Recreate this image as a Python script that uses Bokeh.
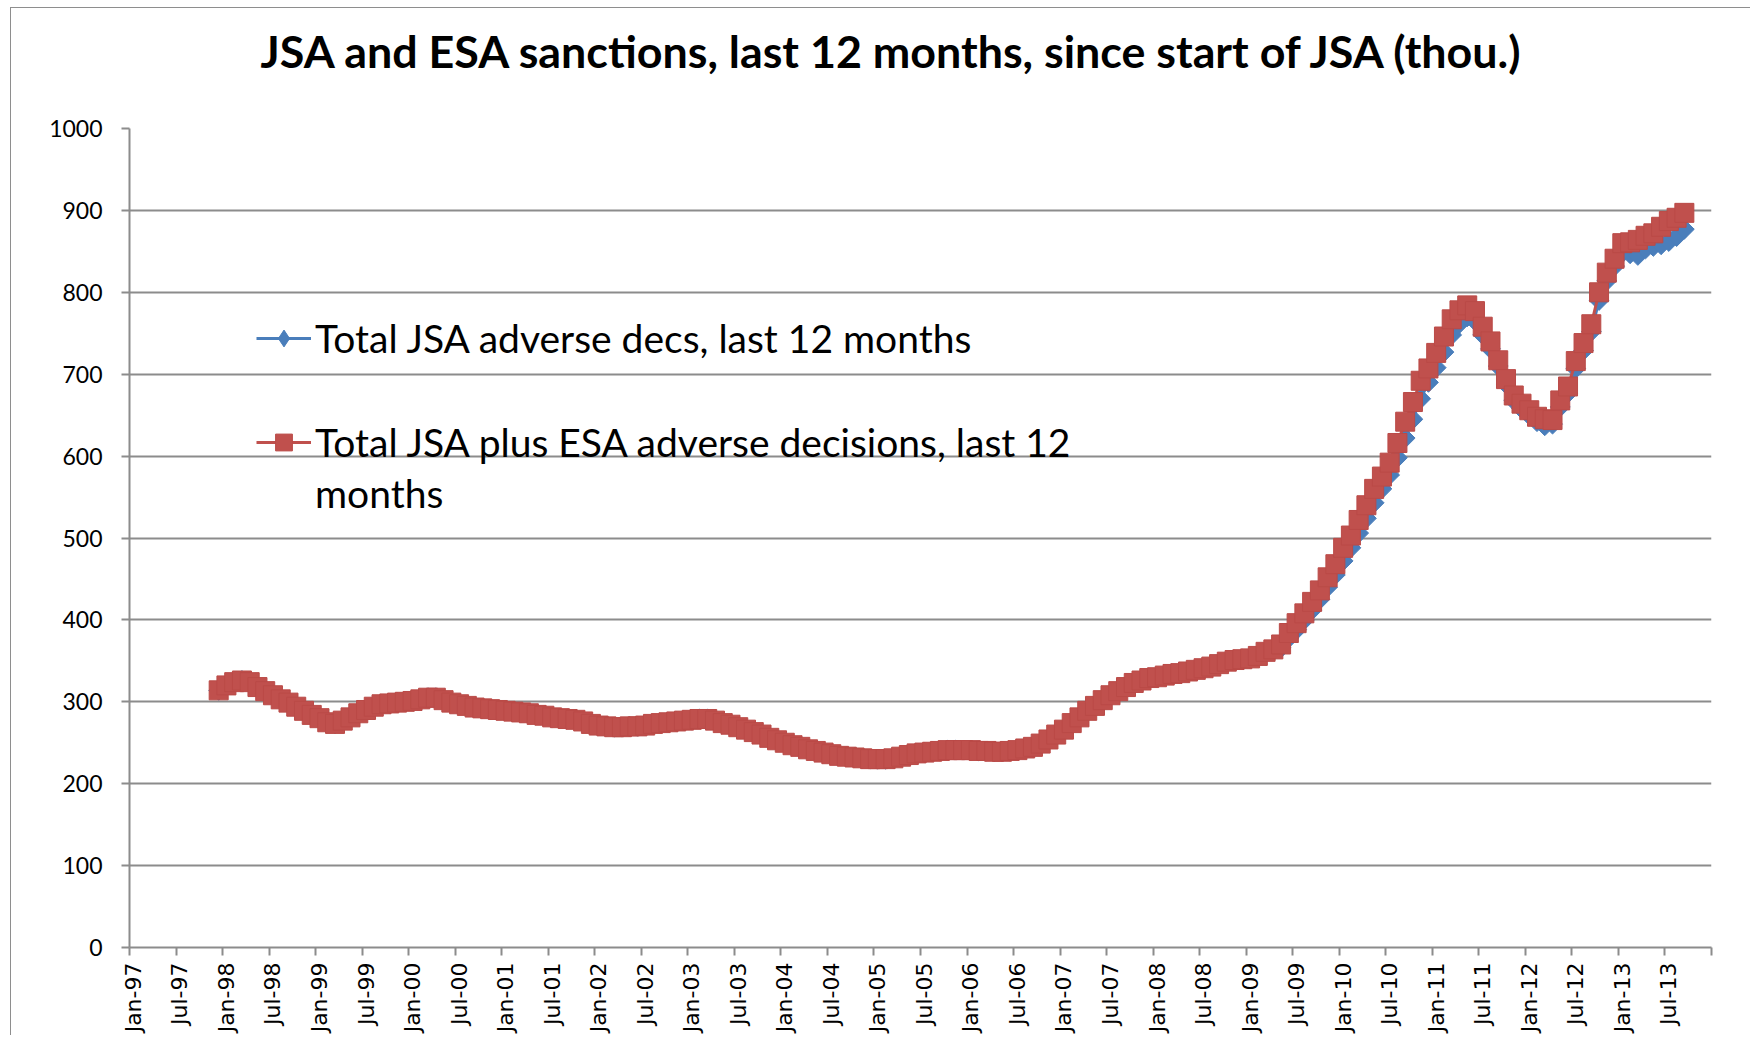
import numpy as np
from bokeh.plotting import figure
from bokeh.models import FixedTicker, Legend, LegendItem, Range1d
from bokeh.embed import file_html
from bokeh.resources import INLINE

# ---------------- data ----------------
title_text = "JSA and ESA sanctions, last 12 months, since start of JSA (thou.)"
series_names = ["Total JSA adverse decs, last 12 months",
                "Total JSA plus ESA adverse decisions, last 12",
                "months"]

# monthly category axis: Jan-97 ... Dec-13 (204 months), labels every 6 months
n_months = 204
tick_labels = ["Jan-97", "Jul-97", "Jan-98", "Jul-98", "Jan-99", "Jul-99",
               "Jan-00", "Jul-00", "Jan-01", "Jul-01", "Jan-02", "Jul-02",
               "Jan-03", "Jul-03", "Jan-04", "Jul-04", "Jan-05", "Jul-05",
               "Jan-06", "Jul-06", "Jan-07", "Jul-07", "Jan-08", "Jul-08",
               "Jan-09", "Jul-09", "Jan-10", "Jul-10", "Jan-11", "Jul-11",
               "Jan-12", "Jul-12", "Jan-13", "Jul-13"]
label_step = 6
first_month = 11   # Dec-97 is the first month with data

jsa_plus_esa = [
    314, 320, 324, 326, 324, 318, 313, 308, 303, 299,
    294, 289, 284, 280, 275, 273, 277, 281, 286, 290,
    294, 297, 298, 299, 300, 301, 303, 305, 305, 302,
    299, 297, 295, 293, 292, 291, 290, 289, 288, 287,
    286, 284, 283, 281, 280, 279, 278, 276, 273, 271,
    270, 269, 269, 270, 270, 271, 273, 274, 275, 276,
    277, 278, 279, 279, 277, 274, 272, 269, 266, 263,
    260, 256, 253, 250, 247, 245, 242, 240, 238, 236,
    234, 233, 232, 231, 230, 230, 230, 231, 233, 235,
    237, 238, 239, 240, 241, 241, 241, 241, 240, 240,
    239, 239, 240, 241, 243, 245, 249, 254, 260, 266,
    274, 281, 289, 295, 302, 308, 313, 318, 323, 326,
    329, 330, 332, 334, 335, 337, 339, 341, 343, 346,
    349, 351, 352, 353, 356, 361, 364, 370, 384, 396,
    408, 422, 436, 452, 468, 488, 503, 522, 540, 560,
    575, 592, 616, 642, 666, 692, 707, 726, 746, 767,
    778, 784, 777, 758, 740, 717, 694, 674, 664, 656,
    648, 645, 644, 668, 685, 716, 738, 761, 800, 824,
    841, 860, 861, 864, 869, 872, 880, 887, 891, 897,
]

jsa_only = [
    314, 320, 324, 326, 324, 318, 313, 308, 303, 299,
    294, 289, 284, 280, 275, 273, 277, 281, 286, 290,
    294, 297, 298, 299, 300, 301, 303, 305, 305, 302,
    299, 297, 295, 293, 292, 291, 290, 289, 288, 287,
    286, 284, 283, 281, 280, 279, 278, 276, 273, 271,
    270, 269, 269, 270, 270, 271, 273, 274, 275, 276,
    277, 278, 279, 279, 277, 274, 272, 269, 266, 263,
    260, 256, 253, 250, 247, 245, 242, 240, 238, 236,
    234, 233, 232, 231, 230, 230, 230, 231, 233, 235,
    237, 238, 239, 240, 241, 241, 241, 241, 240, 240,
    239, 239, 240, 241, 243, 245, 249, 254, 260, 266,
    274, 281, 289, 295, 302, 308, 313, 318, 323, 326,
    329, 330, 332, 334, 335, 337, 339, 341, 343, 346,
    349, 351, 352, 353, 356, 361, 362, 366, 378, 388,
    400, 412, 425, 440, 455, 472, 488, 506, 524, 543,
    560, 577, 598, 622, 645, 670, 690, 708, 727, 748,
    762, 770, 765, 748, 731, 710, 688, 668, 658, 650,
    642, 637, 639, 660, 677, 707, 729, 752, 790, 814,
    832, 848, 847, 845, 853, 856, 858, 862, 868, 877,
]

y_ticks = [0, 100, 200, 300, 400, 500, 600, 700, 800, 900, 1000]

# ---------------- styles ----------------
BLUE = "#4A7EBB"
RED = "#C0504D"
GRID = "#8C8C8C"
FONT = "Lato"

# category centres
x_vals = first_month + np.arange(len(jsa_plus_esa)) + 0.5

p = figure(width=1740, height=1028, output_backend="svg", toolbar_location=None,
           x_range=Range1d(0, n_months), y_range=Range1d(0, 1000),
           min_border_left=118, min_border_right=40, min_border_top=120,
           min_border_bottom=89)
p.styles = {"margin-left": "10px", "margin-top": "7px",
            "border-top": "1px solid #8e8e8e", "border-left": "1px solid #8e8e8e"}
p.outline_line_color = None
p.background_fill_color = "white"
p.border_fill_color = "white"

# title (a blank second line lifts the text towards the top of the chart area)
p.title.text = title_text + "\n "
p.title.text_font = FONT
p.title.text_font_style = "bold"
p.title.text_font_size = "44.8px"
p.title.text_line_height = 0.9
p.title.text_color = "black"
p.title.align = "left"
p.title.offset = 131
p.title.standoff = 4

# series (blue under red)
r_blue_line = p.line(x_vals, jsa_only, line_color=BLUE, line_width=3)
# diamond key (drawn under the rotated squares, used for the legend swatch)
r_blue_key = p.scatter(x_vals, jsa_only, marker="diamond", size=17,
                       fill_color=BLUE, line_color=BLUE)
r_blue_mk = p.scatter(x_vals, jsa_only, marker="square", angle=np.pi / 4, size=14,
                      fill_color=BLUE, line_color=BLUE, line_width=1)
r_red_line = p.line(x_vals, jsa_plus_esa, line_color=RED, line_width=3)
r_red_mk = p.scatter(x_vals, jsa_plus_esa, marker="square", size=19,
                     fill_color=RED, line_color="#BA4A47", line_width=1)
# transparent helper so the wrapped second legend line has no swatch
r_blank = p.line(x_vals, jsa_plus_esa, line_alpha=0)

# x axis: labels at category centres, tick marks at category boundaries
label_pos = [k * label_step + 0.5 for k in range(len(tick_labels))]
bound_pos = [k * label_step for k in range(len(tick_labels) + 1)]
xa = p.xaxis[0]
xa.ticker = FixedTicker(ticks=label_pos, minor_ticks=bound_pos)
xa.major_label_overrides = {pos: lab for pos, lab in zip(label_pos, tick_labels)}
xa.major_label_orientation = np.pi / 2
xa.major_label_text_font = "DejaVu Sans"
xa.major_label_text_font_size = "22px"
xa.major_label_text_color = "black"
xa.major_label_standoff = 7
xa.major_tick_out = 0
xa.major_tick_in = 0
xa.minor_tick_out = 8
xa.minor_tick_in = 0
xa.minor_tick_line_color = GRID
xa.minor_tick_line_width = 2
xa.axis_line_color = GRID
xa.axis_line_width = 2

ya = p.yaxis[0]
ya.ticker = FixedTicker(ticks=y_ticks)
ya.major_label_text_font = FONT
ya.major_label_text_font_size = "23px"
ya.major_label_text_color = "black"
ya.major_label_standoff = 19
ya.major_tick_out = 8
ya.major_tick_in = 0
ya.major_tick_line_color = GRID
ya.major_tick_line_width = 2
ya.minor_tick_line_color = None
ya.axis_line_color = GRID
ya.axis_line_width = 2

p.xgrid.grid_line_color = None
p.ygrid.ticker = FixedTicker(ticks=y_ticks)
p.ygrid.grid_line_color = GRID
p.ygrid.grid_line_width = 2


def style_legend(lg, spacing):
    lg.label_text_font = FONT
    lg.label_text_font_size = "39px"
    lg.label_text_color = "black"
    lg.glyph_width = 55
    lg.glyph_height = 42
    lg.label_height = 42
    lg.label_standoff = 4
    lg.spacing = spacing
    lg.padding = 0
    lg.margin = 0
    lg.border_line_color = None
    lg.background_fill_alpha = 0


legend1 = Legend(items=[
    LegendItem(label=series_names[0], renderers=[r_blue_line, r_blue_key]),
], location=(127, 586))
style_legend(legend1, 0)
p.add_layout(legend1)

legend2 = Legend(items=[
    LegendItem(label=series_names[1], renderers=[r_red_line, r_red_mk]),
    LegendItem(label=series_names[2], renderers=[r_blank]),
], location=(127, 431))
style_legend(legend2, 5)
p.add_layout(legend2)

open("out.html", "w").write(file_html(p, INLINE))
